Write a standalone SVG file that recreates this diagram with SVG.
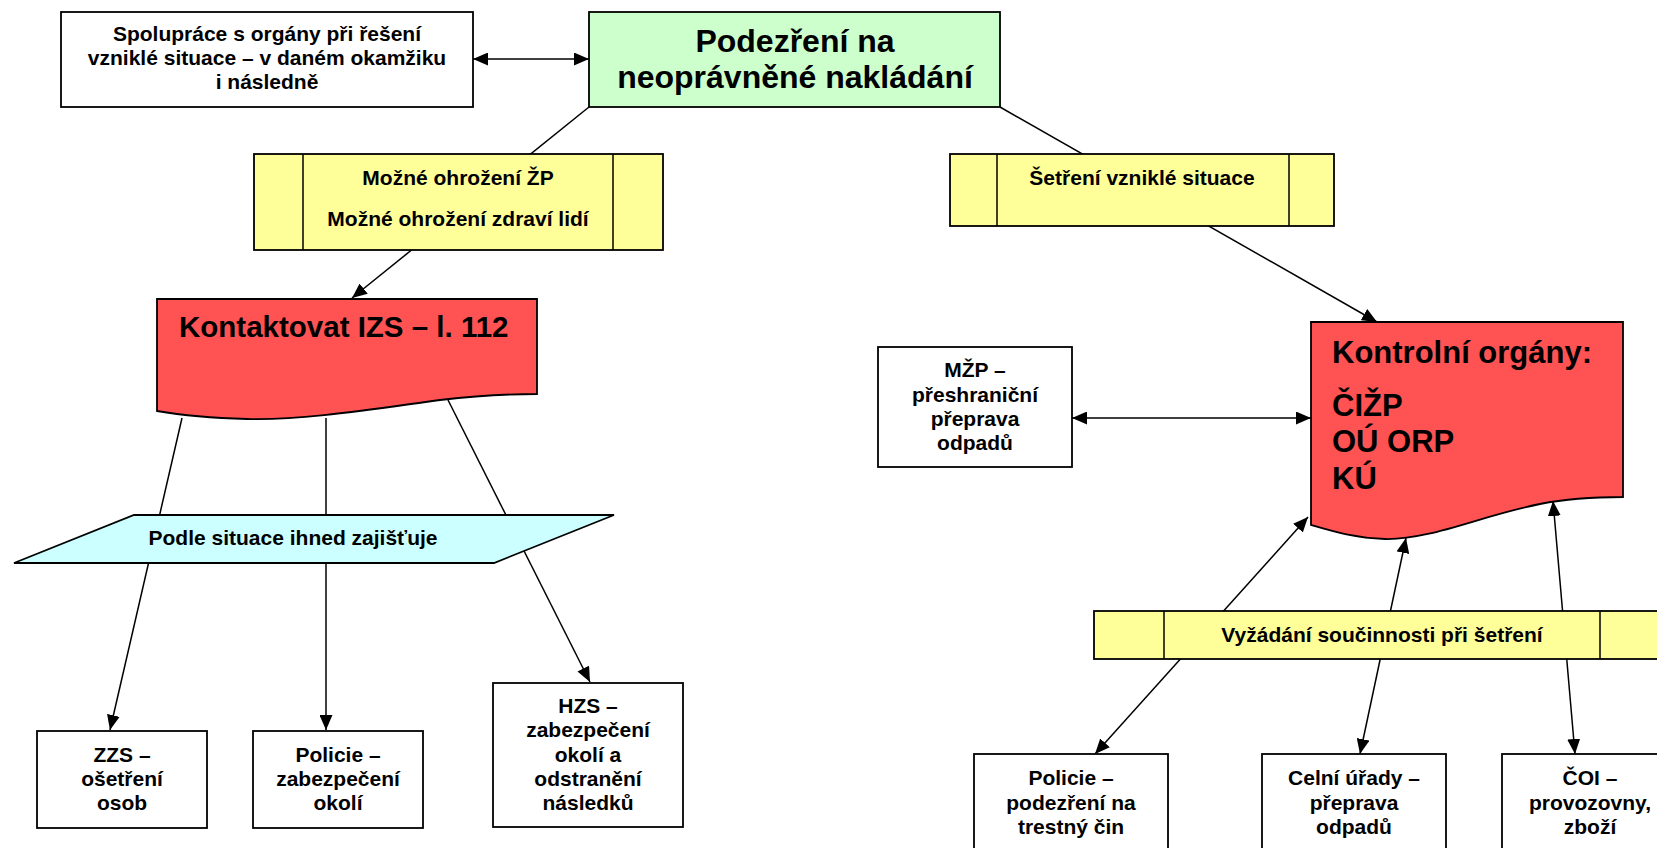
<svg xmlns="http://www.w3.org/2000/svg" width="1657" height="848" viewBox="0 0 1657 848">
<defs>
<style>
.box{stroke:#000;stroke-width:1.8}
.w{fill:#fff}
.g{fill:#ccffcc}
.y{fill:#ffff99}
.r{fill:#ff5252}
.c{fill:#ccffff}
.sep{stroke:#000;stroke-width:1.5}
.ln{stroke:#000;stroke-width:1.5;fill:none}
text{font-family:"Liberation Sans",Arial,sans-serif;font-weight:bold;fill:#000}
.t21{font-size:21px;text-anchor:middle}
.t32{font-size:32px;text-anchor:middle}
.t29{font-size:29.5px}
.t31{font-size:31px}
</style>
<marker id="ah" markerUnits="userSpaceOnUse" markerWidth="15" markerHeight="13" refX="15" refY="6.5" orient="auto-start-reverse" viewBox="0 0 15 13">
<path d="M0,0 L15,6.5 L0,13 z" fill="#000"/>
</marker>
</defs>
<rect width="1657" height="848" fill="#fff"/>

<g id="connectors">
<line class="ln" x1="473" y1="59" x2="589" y2="59" marker-start="url(#ah)" marker-end="url(#ah)"/>
<line class="ln" x1="589" y1="107" x2="352" y2="298" marker-end="url(#ah)"/>
<line class="ln" x1="1000" y1="107" x2="1377" y2="322" marker-end="url(#ah)"/>
<line class="ln" x1="182" y1="418" x2="110" y2="730" marker-end="url(#ah)"/>
<line class="ln" x1="326" y1="418" x2="326" y2="730" marker-end="url(#ah)"/>
<line class="ln" x1="448" y1="400" x2="590" y2="682" marker-end="url(#ah)"/>
<line class="ln" x1="1072" y1="418" x2="1311" y2="418" marker-start="url(#ah)" marker-end="url(#ah)"/>
<line class="ln" x1="1308" y1="517" x2="1095" y2="754" marker-start="url(#ah)" marker-end="url(#ah)"/>
<line class="ln" x1="1406" y1="538" x2="1360" y2="754" marker-start="url(#ah)" marker-end="url(#ah)"/>
<line class="ln" x1="1553" y1="501" x2="1575" y2="754" marker-start="url(#ah)" marker-end="url(#ah)"/>
</g>

<g id="spoluprace">
<rect class="box w" x="61" y="12" width="412" height="95"/>
<text class="t21" x="267" y="41">Spolupráce s orgány při řešení</text>
<text class="t21" x="267" y="65">vzniklé situace – v daném okamžiku</text>
<text class="t21" x="267" y="89">i následně</text>
</g>

<g id="podezreni">
<rect class="box g" x="589" y="12" width="411" height="95"/>
<text class="t32" x="795" y="52">Podezření na</text>
<text class="t32" x="795" y="88">neoprávněné nakládání</text>
</g>

<g id="ohrozeni">
<rect class="box y" x="254" y="154" width="409" height="96"/>
<line class="sep" x1="303" y1="154" x2="303" y2="250"/>
<line class="sep" x1="613" y1="154" x2="613" y2="250"/>
<text class="t21" x="458" y="185">Možné ohrožení ŽP</text>
<text class="t21" x="458" y="226">Možné ohrožení zdraví lidí</text>
</g>

<g id="setreni">
<rect class="box y" x="950" y="154" width="384" height="72"/>
<line class="sep" x1="997" y1="154" x2="997" y2="226"/>
<line class="sep" x1="1289" y1="154" x2="1289" y2="226"/>
<text class="t21" x="1142" y="185">Šetření vzniklé situace</text>
</g>

<g id="kontaktovat">
<path class="box r" d="M157,299 H537 V394 C505,394 475,396 440,400 C380,408 300,421 247,419 C210,418 180,415 157,411 Z"/>
<text class="t29" x="179" y="337">Kontaktovat IZS – l. 112</text>
</g>

<g id="podle">
<polygon class="box c" points="134,515 614,515 494,563 14,563"/>
<text class="t21" x="293" y="545">Podle situace ihned zajišťuje</text>
</g>

<g id="zzs">
<rect class="box w" x="37" y="731" width="170" height="97"/>
<text class="t21" x="122" y="762">ZZS –</text>
<text class="t21" x="122" y="786">ošetření</text>
<text class="t21" x="122" y="810">osob</text>
</g>

<g id="policie-l">
<rect class="box w" x="253" y="731" width="170" height="97"/>
<text class="t21" x="338" y="762">Policie –</text>
<text class="t21" x="338" y="786">zabezpečení</text>
<text class="t21" x="338" y="810">okolí</text>
</g>

<g id="hzs">
<rect class="box w" x="493" y="683" width="190" height="144"/>
<text class="t21" x="588" y="713">HZS –</text>
<text class="t21" x="588" y="737">zabezpečení</text>
<text class="t21" x="588" y="762">okolí a</text>
<text class="t21" x="588" y="786">odstranění</text>
<text class="t21" x="588" y="810">následků</text>
</g>

<g id="mzp">
<rect class="box w" x="878" y="347" width="194" height="120"/>
<text class="t21" x="975" y="377">MŽP –</text>
<text class="t21" x="975" y="402">přeshraniční</text>
<text class="t21" x="975" y="426">přeprava</text>
<text class="t21" x="975" y="450">odpadů</text>
</g>

<g id="kontrolni">
<path class="box r" d="M1311,322 H1623 V497 C1590,497 1565,499 1540,504 C1480,516 1430,540 1385,539 C1355,538 1335,532 1311,525 Z"/>
<text class="t31" x="1332" y="363">Kontrolní orgány:</text>
<text class="t31" x="1332" y="416">ČIŽP</text>
<text class="t31" x="1332" y="452">OÚ ORP</text>
<text class="t31" x="1332" y="489">KÚ</text>
</g>

<g id="vyzadani">
<rect class="box y" x="1094" y="611" width="576" height="48"/>
<line class="sep" x1="1164" y1="611" x2="1164" y2="659"/>
<line class="sep" x1="1600" y1="611" x2="1600" y2="659"/>
<text class="t21" x="1382" y="642">Vyžádání součinnosti při šetření</text>
</g>

<g id="policie-r">
<rect class="box w" x="974" y="754" width="194" height="110"/>
<text class="t21" x="1071" y="785">Policie –</text>
<text class="t21" x="1071" y="810">podezření na</text>
<text class="t21" x="1071" y="834">trestný čin</text>
</g>

<g id="celni">
<rect class="box w" x="1262" y="754" width="184" height="110"/>
<text class="t21" x="1354" y="785">Celní úřady –</text>
<text class="t21" x="1354" y="810">přeprava</text>
<text class="t21" x="1354" y="834">odpadů</text>
</g>

<g id="coi">
<rect class="box w" x="1502" y="754" width="180" height="110"/>
<text class="t21" x="1590" y="785">ČOI –</text>
<text class="t21" x="1590" y="810">provozovny,</text>
<text class="t21" x="1590" y="834">zboží</text>
</g>
</svg>
